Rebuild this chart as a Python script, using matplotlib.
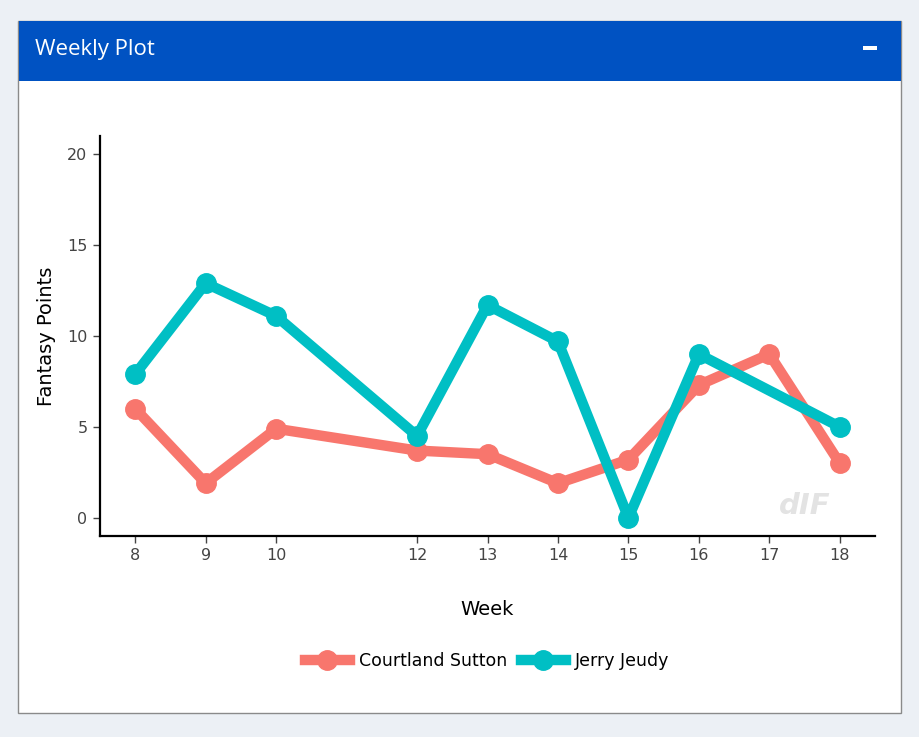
import matplotlib
matplotlib.use('Agg')
import matplotlib.pyplot as plt
from matplotlib.patches import Rectangle
from matplotlib.lines import Line2D

W, H = 920, 737

sutton_weeks = [8, 9, 10, 12, 13, 14, 15, 16, 17, 18]
sutton_pts = [6.0, 1.9, 4.9, 3.7, 3.5, 1.9, 3.2, 7.3, 9.0, 3.0]
jeudy_weeks = [8, 9, 10, 12, 13, 14, 15, 16, 18]
jeudy_pts = [7.9, 12.9, 11.1, 4.5, 11.7, 9.7, 0.0, 9.0, 5.0]
week_ticks = [8, 9, 10, 12, 13, 14, 15, 16, 17, 18]
point_ticks = [0, 5, 10, 15, 20]

red = '#F8766D'
teal = '#00BFC4'

fig = plt.figure(figsize=(W / 100, H / 100), dpi=100)
fig.patch.set_facecolor('#ECF0F5')

def px(x, y, w, h):
    # pixel box (top-left origin) -> figure fraction
    return (x / W, 1 - (y + h) / H), w / W, h / H

# card + header
xy, w, h = px(18.5, 20.5, 883, 692)
fig.patches.append(Rectangle(xy, w, h, transform=fig.transFigure, zorder=-2,
                             facecolor='white', edgecolor='#8a8a8a', lw=1))
xy, w, h = px(19, 21, 882, 60)
fig.patches.append(Rectangle(xy, w, h, transform=fig.transFigure, zorder=-1,
                             facecolor='#0052C2', edgecolor='none'))
fig.text(35 / W, 1 - 50 / H, 'Weekly Plot', color='white', fontsize=16,
         family='Open Sans', va='center', ha='left')
xy, w, h = px(863, 46, 14, 4)
fig.patches.append(Rectangle(xy, w, h, transform=fig.transFigure, zorder=-1,
                             facecolor='white', edgecolor='none'))

# watermark
fig.text(805 / W, 1 - 506 / H, 'dIF', color='#e3e3e3', fontsize=21,
         fontweight='heavy', style='italic', ha='center', va='center', zorder=-1)

ax = fig.add_axes([100 / W, 1 - 536 / H, 775 / W, 400 / H])
ax.patch.set_alpha(0)
ax.plot(sutton_weeks, sutton_pts, color=red, lw=7.5, marker='o', ms=14,
        solid_capstyle='round', solid_joinstyle='round', label='Courtland Sutton')
ax.plot(jeudy_weeks, jeudy_pts, color=teal, lw=7.5, marker='o', ms=14,
        solid_capstyle='round', solid_joinstyle='round', label='Jerry Jeudy')

ax.set_xlim(7.5, 18.5)
ax.set_ylim(-1, 21)
ax.set_xticks(week_ticks)
ax.set_yticks(point_ticks)
ax.spines['top'].set_visible(False)
ax.spines['right'].set_visible(False)
ax.spines['left'].set_linewidth(1.6)
ax.spines['bottom'].set_linewidth(1.6)
ax.tick_params(length=5, width=1, color='#444444', labelcolor='#444444',
               labelsize=11.5, pad=4)
ax.set_xlabel('Week', fontsize=14, labelpad=26)
ax.set_ylabel('Fantasy Points', fontsize=14, labelpad=8)

handles = [Line2D([], [], color=red, lw=7.5, marker='o', ms=14),
           Line2D([], [], color=teal, lw=7.5, marker='o', ms=14)]
fig.legend(handles, ['Courtland Sutton', 'Jerry Jeudy'], loc='center',
           bbox_to_anchor=(487 / W, 1 - 661 / H), ncol=2, frameon=False,
           fontsize=12.5, handlelength=2.6, columnspacing=0.8, handletextpad=0.5)

fig.savefig('out.png', dpi=100, facecolor=fig.get_facecolor())
